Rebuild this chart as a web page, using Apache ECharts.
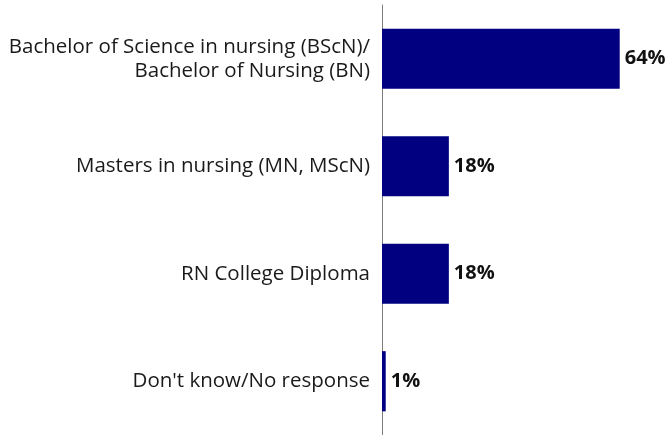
<!DOCTYPE html>
<html><head><meta charset="utf-8">
<script src="https://cdn.jsdelivr.net/npm/echarts@6/dist/echarts.min.js"></script>
<style>html,body{margin:0;padding:0;background:#fff}#c{width:670px;height:435px}</style>
</head><body><div id="c"></div>
<script>
const categories = [
  "Bachelor of Science in nursing (BScN)/\nBachelor of Nursing (BN)",
  "Masters in nursing (MN, MScN)",
  "RN College Diploma",
  "Don't know/No response"
];
const values = [64, 18, 18, 1];
const valueLabels = ["64%", "18%", "18%", "1%"];

const chart = echarts.init(document.getElementById('c'), null, {renderer: 'canvas'});
chart.setOption({
  animation: false,
  grid: {left: 382, right: 28, top: 5, bottom: 0, containLabel: false},
  xAxis: {type: 'value', min: 0, max: 70, show: false},
  yAxis: {
    type: 'category', data: categories, inverse: true,
    axisLine: {show: true, lineStyle: {color: '#7f7f7f', width: 1}},
    axisTick: {show: false},
    axisLabel: {color: '#1a1a1a', fontFamily: 'Open Sans', fontSize: 20.5, lineHeight: 24, align: 'right', margin: 12}
  },
  series: [{
    type: 'bar', data: values, barWidth: '56%',
    itemStyle: {color: '#000080'},
    label: {show: true, position: 'right', distance: 5, color: '#111', fontFamily: 'Open Sans', fontWeight: 'bold', fontSize: 20,
      formatter: p => valueLabels[p.dataIndex]}
  }]
});
</script></body></html>
